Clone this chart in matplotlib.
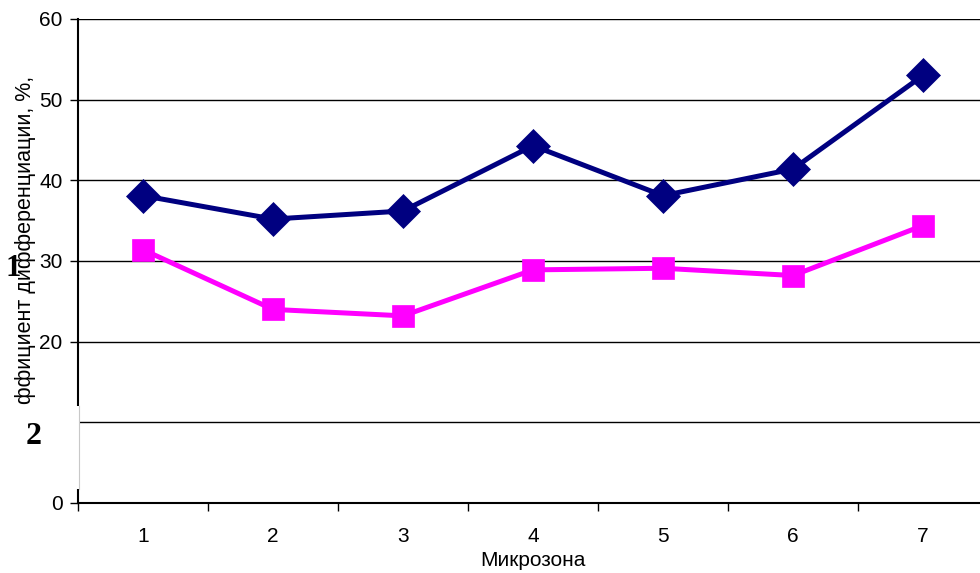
import matplotlib.pyplot as plt
from matplotlib.patches import Rectangle
from matplotlib.lines import Line2D

plt.rcParams['font.family'] = ['Liberation Sans', 'DejaVu Sans']

# Values
zones = [1, 2, 3, 4, 5, 6, 7]
series_1 = [38.1, 35.2, 36.2, 44.3, 38.1, 41.4, 53.0]
series_2 = [31.4, 24.0, 23.2, 28.9, 29.1, 28.2, 34.4]
y_ticks = [0, 10, 20, 30, 40, 50, 60]

W, H = 980, 573
fig = plt.figure(figsize=(W / 100, H / 100), dpi=100)
ax = fig.add_axes([78 / W, (H - 503) / H, 910 / W, 484 / H])

ax.plot(zones, series_1, color="#000080", lw=3.6, marker="D", ms=17,
        markerfacecolor="#000080", markeredgecolor="#000080", mew=0.5, zorder=3)
ax.plot(zones, series_2, color="#FF00FF", lw=3.6, marker="s", ms=16,
        markerfacecolor="#FF00FF", markeredgecolor="#FF00FF", mew=0.5, zorder=3)

ax.set_xlim(0.5, 7.5)
ax.set_ylim(0, 60)
ax.set_yticks(y_ticks)
ax.yaxis.grid(True, color="black", lw=1)
ax.set_axisbelow(True)

# category axis: ticks between categories, labels in the middle
ax.set_xticks([z + 0.5 for z in [0] + zones])
ax.set_xticks(zones, minor=True)
ax.set_xticklabels([])
ax.set_xticklabels([str(z) for z in zones], minor=True)
ax.tick_params(axis="x", which="major", length=6, width=1, direction="out")
ax.tick_params(axis="x", which="minor", length=0, pad=17, labelsize=15)
ax.tick_params(axis="y", length=6, width=1, direction="out", labelsize=15, pad=5)

for s in ["top", "right"]:
    ax.spines[s].set_visible(False)
ax.spines["left"].set_linewidth(1.5)
ax.spines["bottom"].set_linewidth(1.5)

ax.set_xlabel("Микрозона", fontsize=15, labelpad=4)

# clipped y label
fig.text(26 / W, 1 - 240 / H, "ффициент дифференциации, %,", rotation=90,
         ha="center", va="center", fontsize=15.5, zorder=4)

# white box covering part of the axis, with the "2" label
fig.add_artist(Rectangle((0, (H - 489) / H), 79 / W, 83 / H,
                         transform=fig.transFigure, facecolor="white",
                         edgecolor="none", zorder=5))
fig.add_artist(Line2D([79 / W, 79 / W], [(H - 489) / H, (H - 406) / H],
                      transform=fig.transFigure, color="#c8c8c8", lw=0.8,
                      zorder=5))
fig.text(34 / W, 1 - 437 / H, "2", fontsize=23, fontweight="bold",
         family="Liberation Serif", ha="center", va="center", zorder=6)
fig.text(13 / W, 1 - 268 / H, "1", fontsize=22, fontweight="bold",
         family="Liberation Serif", ha="center", va="center", zorder=6)

fig.savefig("out.png", dpi=100)
